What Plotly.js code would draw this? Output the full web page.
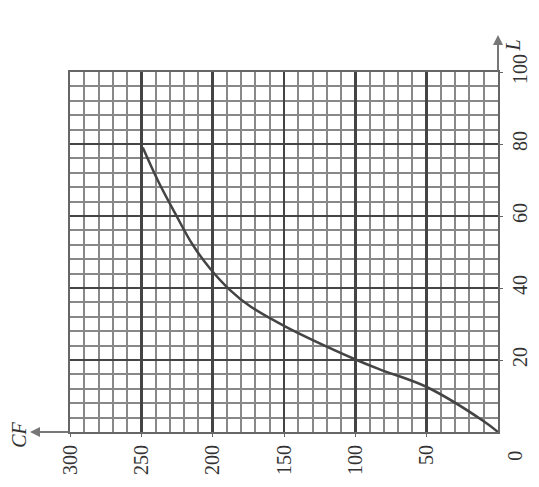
<!DOCTYPE html>
<html>
<head>
<meta charset="utf-8">
<script src="https://cdn.plot.ly/plotly-3.0.1.min.js"></script>
<style>html,body{margin:0;padding:0;background:#fff;}#chart{width:539px;height:487px;}</style>
</head>
<body>
<div id="chart"></div>
<script>
const cfValues = [0, 10, 50, 83, 99, 149, 174, 188, 202, 214, 226, 238, 249];
const lValues  = [0, 3, 12.5, 17.4, 20, 29.3, 35, 39.5, 45.5, 52, 60.5, 69.5, 79];
const cfTicks = [300, 250, 200, 150, 100, 50];
const lTicks = [20, 40, 60, 80, 100];

const fontFam = '"Liberation Serif", "DejaVu Serif", serif';

const trace = {
  x: cfValues, y: lValues, type: 'scatter', mode: 'lines',
  line: {color: '#444', width: 2.5, shape: 'spline', smoothing: 1},
  hoverinfo: 'skip'
};

const layout = {
  width: 539, height: 487,
  margin: {l: 70, r: 41, t: 72, b: 55},
  paper_bgcolor: '#fff', plot_bgcolor: '#fff',
  showlegend: false,
  font: {family: fontFam, size: 20, color: '#333'},
  xaxis: {
    range: [300, 0], tickvals: cfTicks, ticktext: cfTicks.map(String),
    tickangle: -90, showgrid: true, gridcolor: '#444', gridwidth: 2.5,
    minor: {dtick: 10, tick0: 0, showgrid: true, gridcolor: '#888', gridwidth: 2},
    showline: true, linecolor: '#666', linewidth: 2, mirror: true,
    ticks: 'outside', ticklen: 3, tickcolor: '#666',
    zeroline: false, fixedrange: true
  },
  yaxis: {
    range: [0, 100], side: 'right', tickvals: lTicks, ticktext: lTicks.map(String),
    tickangle: -90, showgrid: true, gridcolor: '#444', gridwidth: 2.5,
    minor: {dtick: 4, tick0: 0, showgrid: true, gridcolor: '#888', gridwidth: 2},
    showline: true, linecolor: '#666', linewidth: 2, mirror: true,
    ticks: 'outside', ticklen: 3, tickcolor: '#666',
    zeroline: false, fixedrange: true
  },
  annotations: [
    {xref: 'paper', yref: 'paper', x: -0.15, y: -0.05, text: '<i>CF</i>', showarrow: false,
     textangle: -90, font: {family: fontFam, size: 20, color: '#333'}},
    {xref: 'paper', yref: 'paper', x: 1.065, y: 1.095, text: '<i>L</i>', showarrow: false,
     textangle: -90, font: {family: fontFam, size: 20, color: '#333'}},
    {xref: 'paper', yref: 'paper', x: 1.068, y: -0.085, text: '0', showarrow: false,
     textangle: -90, font: {family: fontFam, size: 20, color: '#333'}},
    {xref: 'paper', yref: 'paper', x: -0.0935, y: 0, ax: 40, ay: 0, text: '', showarrow: true,
     arrowhead: 2, arrowsize: 1, arrowwidth: 2, arrowcolor: '#777'},
    {xref: 'paper', yref: 'paper', x: 1, y: 1.103, ax: 0, ay: 37, text: '', showarrow: true,
     arrowhead: 2, arrowsize: 1, arrowwidth: 2, arrowcolor: '#777'}
  ]
};

Plotly.newPlot('chart', [trace], layout, {displayModeBar: false, staticPlot: true});
</script>
</body>
</html>
